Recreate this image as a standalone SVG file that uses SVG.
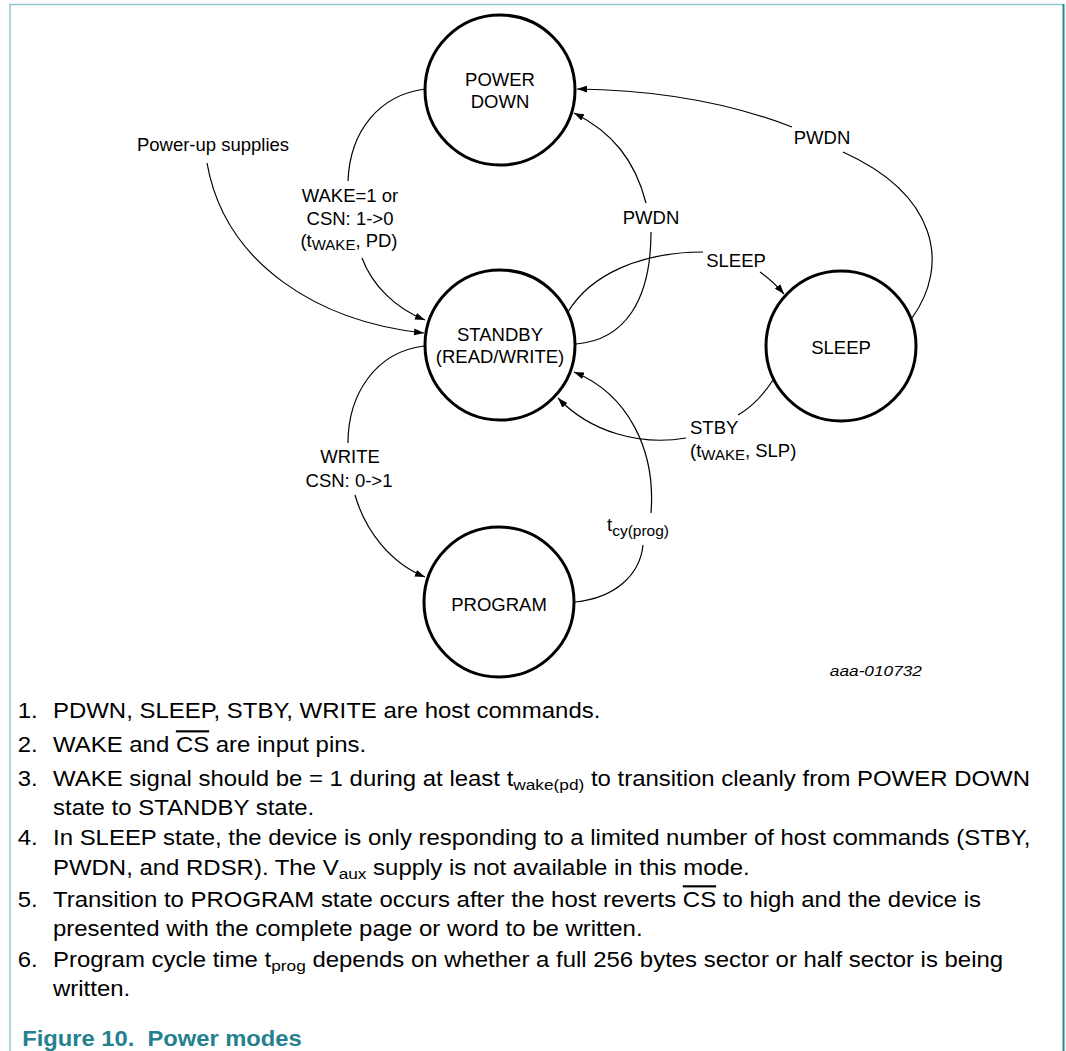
<svg xmlns="http://www.w3.org/2000/svg" width="1066" height="1051" viewBox="0 0 1066 1051">
<style>
.node{fill:#fff;stroke:#000;stroke-width:3}
.lbl{font-family:"Liberation Sans",Arial,sans-serif;font-size:18.5px;fill:#000}
.mid{text-anchor:middle}
.conn path{fill:none;stroke:#000;stroke-width:1.2}
.note{font-family:"Liberation Sans",Arial,sans-serif;font-size:21.5px;fill:#000}
.cap{font-family:"Liberation Sans",Arial,sans-serif;font-size:21.3px;font-weight:bold;fill:#25808f}
.ol{text-decoration:overline}
.sub{font-size:15.5px}
.id{font-family:"Liberation Sans",Arial,sans-serif;font-size:15.5px;font-style:italic;fill:#000}
</style>
<defs>
<marker id="ah" viewBox="0 0 10 7" refX="10" refY="3.5" markerWidth="10" markerHeight="7" markerUnits="userSpaceOnUse" orient="auto">
<path d="M0,0 L10,3.5 L0,7 z" fill="#000"/>
</marker>
</defs>
<rect width="1066" height="1051" fill="#fff"/>
<g id="frame">
<path d="M10,1051 V4.5 H1063" fill="none" stroke="#92c7d2" stroke-width="1.5"/>
<path d="M1063.5,4 V1051" fill="none" stroke="#1f8c9b" stroke-width="2"/>
</g>
<g id="connectors" class="conn">
<path d="M207,163 C225,265 320,322 424,333" marker-end="url(#ah)"/>
<path d="M425,89 C380,95 350,130 348,181"/>
<path d="M362,258 C372,285 395,308 425,320" marker-end="url(#ah)"/>
<path d="M576,344 C625,340 651,300 651,232"/>
<path d="M646,203 C635,160 612,132 574,113" marker-end="url(#ah)"/>
<path d="M568,312 C590,275 640,252 703,252"/>
<path d="M760,272 Q773,281 784,294" marker-end="url(#ah)"/>
<path d="M912,318 C950,265 938,195 843,152"/>
<path d="M792,127 C730,103 660,90 577,89" marker-end="url(#ah)"/>
<path d="M773,380 C762,397 752,407 738,415"/>
<path d="M686,438 C640,446 590,432 558,398" marker-end="url(#ah)"/>
<path d="M424,346 C375,352 348,395 348,443"/>
<path d="M355,495 C365,530 390,563 425,577" marker-end="url(#ah)"/>
<path d="M575,602 C615,598 640,575 643,545"/>
<path d="M651,513 C656,450 628,394 574,372" marker-end="url(#ah)"/>
</g>
<g id="power-down">
<circle class="node" cx="500" cy="90" r="75"/>
<text class="lbl mid" x="500" y="86">POWER</text>
<text class="lbl mid" x="500" y="108">DOWN</text>
</g>
<g id="standby">
<circle class="node" cx="500" cy="345" r="75"/>
<text class="lbl mid" x="500" y="341">STANDBY</text>
<text class="lbl mid" x="500" y="363">(READ/WRITE)</text>
</g>
<g id="sleep">
<circle class="node" cx="841" cy="346" r="75"/>
<text class="lbl mid" x="841" y="354">SLEEP</text>
</g>
<g id="program">
<circle class="node" cx="499" cy="602" r="75"/>
<text class="lbl mid" x="499" y="611">PROGRAM</text>
</g>
<g id="labels">
<text class="lbl mid" x="213" y="151">Power-up supplies</text>
<text class="lbl mid" x="350" y="202">WAKE=1 or</text>
<text class="lbl mid" x="350" y="225">CSN: 1-&gt;0</text>
<text class="lbl mid" x="349" y="247">(t<tspan font-size="15" dy="3">WAKE</tspan><tspan dy="-3">, PD)</tspan></text>
<text class="lbl mid" x="651" y="224">PWDN</text>
<text class="lbl mid" x="822" y="144">PWDN</text>
<text class="lbl mid" x="736" y="267">SLEEP</text>
<text class="lbl" x="690" y="434">STBY</text>
<text class="lbl" x="690" y="457">(t<tspan font-size="15" dy="3">WAKE</tspan><tspan dy="-3">, SLP)</tspan></text>
<text class="lbl mid" x="350" y="463">WRITE</text>
<text class="lbl mid" x="349" y="487">CSN: 0-&gt;1</text>
<text class="lbl" x="607" y="531">t<tspan font-size="15.5" dy="5">cy(prog)</tspan></text>
</g>
<g id="notes" transform="scale(1.114 1)">
<text class="id" x="827.6" y="676" text-anchor="end">aaa-010732</text>
<text class="note" x="16" y="718">1.</text>
<text class="note" x="47.6" y="718">PDWN, SLEEP, STBY, WRITE are host commands.</text>
<text class="note" x="16" y="752">2.</text>
<text class="note" x="47.6" y="752">WAKE and <tspan class="ol">CS</tspan> are input pins.</text>
<text class="note" x="16" y="786.5">3.</text>
<text class="note" x="47.6" y="786.5">WAKE signal should be = 1 during at least t<tspan class="sub" dy="4">wake(pd)</tspan><tspan dy="-4"> to transition cleanly from POWER DOWN</tspan></text>
<text class="note" x="47.6" y="815">state to STANDBY state.</text>
<text class="note" x="16" y="845">4.</text>
<text class="note" x="47.6" y="845">In SLEEP state, the device is only responding to a limited number of host commands (STBY,</text>
<text class="note" x="47.6" y="875">PWDN, and RDSR). The V<tspan class="sub" dy="4">aux</tspan><tspan dy="-4"> supply is not available in this mode.</tspan></text>
<text class="note" x="16" y="907">5.</text>
<text class="note" x="47.6" y="907">Transition to PROGRAM state occurs after the host reverts <tspan class="ol">CS</tspan> to high and the device is</text>
<text class="note" x="47.6" y="936.5">presented with the complete page or word to be written.</text>
<text class="note" x="16" y="967.5">6.</text>
<text class="note" x="47.6" y="967.5">Program cycle time t<tspan class="sub" dy="4">prog</tspan><tspan dy="-4"> depends on whether a full 256 bytes sector or half sector is being</tspan></text>
<text class="note" x="47.6" y="996.5">written.</text>
<text class="cap" x="20" y="1046.5" xml:space="preserve">Figure 10.  Power modes</text>
</g>
</svg>
